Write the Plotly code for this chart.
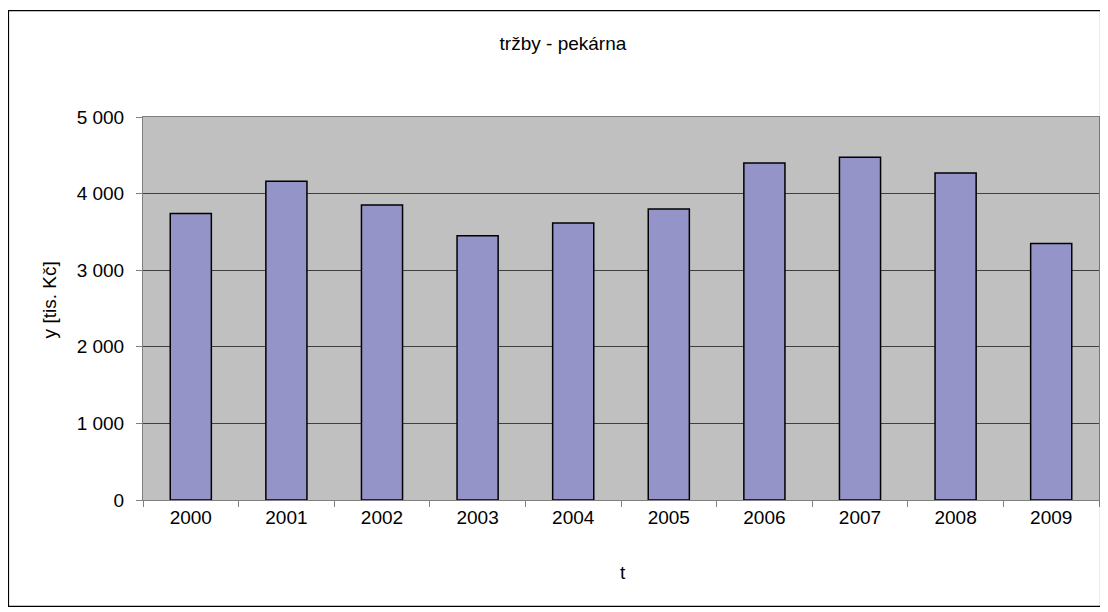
import plotly.graph_objects as go

years = ["2000", "2001", "2002", "2003", "2004", "2005", "2006", "2007", "2008", "2009"]
sales = [3740, 4160, 3850, 3450, 3615, 3800, 4400, 4475, 4270, 3350]
y_tickvals = [0, 1000, 2000, 3000, 4000, 5000]
y_ticktext = ["0", "1 000", "2 000", "3 000", "4 000", "5 000"]

FONT = "Liberation Sans, Arial, sans-serif"

fig = go.Figure(
    go.Bar(
        x=years,
        y=sales,
        marker=dict(color="#9494C8", line=dict(color="#000000", width=1.5)),
        hoverinfo="x+y",
    )
)

# The page body has an 8px margin, so the figure is sized/shifted to fit the 1108x612 window.
fig.update_layout(
    width=1100,
    height=604,
    margin=dict(l=135, r=9, t=109, b=112),
    paper_bgcolor="#FFFFFF",
    plot_bgcolor="#C0C0C0",
    bargap=0.57,
    showlegend=False,
    font=dict(family=FONT, size=19, color="#000000"),
    title=dict(
        text="tržby - pekárna",
        x=0.5045,
        xanchor="center",
        y=0.942,
        yanchor="middle",
        font=dict(family=FONT, size=19, color="#000000"),
    ),
)

fig.update_xaxes(
    type="category",
    tickson="boundaries",
    ticks="outside",
    ticklen=6,
    tickcolor="#808080",
    showline=True,
    linecolor="#808080",
    linewidth=1,
    mirror=True,
    showgrid=False,
    tickfont=dict(family=FONT, size=19),
)

fig.update_yaxes(
    range=[0, 5000],
    tickvals=y_tickvals,
    ticktext=y_ticktext,
    ticks="outside",
    ticklen=6,
    tickcolor="#808080",
    ticklabelstandoff=8,
    showline=True,
    linecolor="#808080",
    linewidth=1,
    mirror=True,
    showgrid=True,
    gridcolor="#404040",
    gridwidth=1,
    zeroline=False,
    tickfont=dict(family=FONT, size=19),
)

fig.add_annotation(
    text="y [tis. Kč]", xref="paper", yref="paper", x=-0.098, y=0.522,
    xanchor="center", yanchor="middle", textangle=-90, showarrow=False,
    font=dict(family=FONT, size=19),
)
fig.add_annotation(
    text="t", xref="paper", yref="paper", x=0.502, y=-0.188,
    xanchor="center", yanchor="middle", showarrow=False,
    font=dict(family=FONT, size=19),
)

# chart frame
fig.add_shape(
    type="rect", xref="paper", yref="paper",
    x0=-0.1407, x1=1.0016, y0=-0.278, y1=1.278,
    line=dict(color="#000000", width=1.2), fillcolor="rgba(0,0,0,0)", layer="above",
)

fig.write_html("out.html")
